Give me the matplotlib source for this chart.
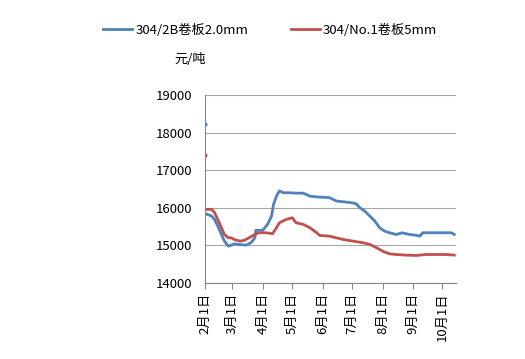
import matplotlib.pyplot as plt
import pandas as pd

plt.rcParams['font.family'] = ['Noto Sans CJK SC', 'DejaVu Sans']

# 304/2B 卷板 2.0mm
blue_dates = ["2015-02-02", "2015-02-08", "2015-02-11", "2015-02-15", "2015-02-18",
              "2015-02-21", "2015-02-25", "2015-02-28", "2015-03-03", "2015-03-09",
              "2015-03-15", "2015-03-20", "2015-03-24", "2015-03-25", "2015-04-01",
              "2015-04-06", "2015-04-10", "2015-04-12", "2015-04-15", "2015-04-18",
              "2015-04-22", "2015-04-28", "2015-05-05", "2015-05-12", "2015-05-15",
              "2015-05-19", "2015-05-26", "2015-06-08", "2015-06-15", "2015-06-22",
              "2015-06-29", "2015-07-05", "2015-07-09", "2015-07-14", "2015-07-19",
              "2015-07-24", "2015-07-29", "2015-08-03", "2015-08-08", "2015-08-15",
              "2015-08-21", "2015-08-28", "2015-09-04", "2015-09-08", "2015-09-11",
              "2015-09-18", "2015-10-01", "2015-10-10", "2015-10-13"]
blue_vals = [15842, 15780, 15690, 15470, 15290,
             15112, 14979, 15005, 15040, 15020,
             15005, 15070, 15200, 15400, 15400,
             15560, 15780, 16090, 16310, 16450,
             16400, 16400, 16390, 16390, 16360,
             16310, 16290, 16270, 16180, 16160,
             16140, 16110, 16000, 15910, 15780,
             15650, 15470, 15380, 15335, 15290,
             15335, 15290, 15270, 15245, 15335,
             15335, 15335, 15335, 15290]
blue_first = ("2015-02-01", 18244)

# 304/No.1 卷板 5mm
red_dates = ["2015-02-02", "2015-02-08", "2015-02-11", "2015-02-15", "2015-02-18",
             "2015-02-21", "2015-02-25", "2015-02-28", "2015-03-03", "2015-03-09",
             "2015-03-13", "2015-03-18", "2015-03-24", "2015-03-28", "2015-04-04",
             "2015-04-11", "2015-04-15", "2015-04-18", "2015-04-25", "2015-05-01",
             "2015-05-05", "2015-05-12", "2015-05-19", "2015-05-26", "2015-05-29",
             "2015-06-08", "2015-06-15", "2015-06-22", "2015-07-02", "2015-07-12",
             "2015-07-19", "2015-07-26", "2015-08-01", "2015-08-08", "2015-08-15",
             "2015-08-25", "2015-09-04", "2015-09-14", "2015-09-24", "2015-10-04",
             "2015-10-13"]
red_vals = [15957, 15957, 15870, 15646, 15470,
            15290, 15200, 15200, 15156, 15112,
            15130, 15200, 15290, 15335, 15335,
            15310, 15470, 15600, 15690, 15735,
            15600, 15560, 15470, 15335, 15263,
            15245, 15200, 15156, 15112, 15070,
            15025, 14935, 14845, 14774, 14756,
            14740, 14730, 14756, 14756, 14756,
            14740]
red_first = ("2015-02-01", 17407)

tick_dates = ["2015-02-01", "2015-03-01", "2015-04-01", "2015-05-01", "2015-06-01",
              "2015-07-01", "2015-08-01", "2015-09-01", "2015-10-01"]
tick_labels = ["2月1日", "3月1日", "4月1日", "5月1日", "6月1日",
               "7月1日", "8月1日", "9月1日", "10月1日"]

blue_c = "#4F81BD"
red_c = "#C0504D"

fig = plt.figure(figsize=(5.25, 3.59), dpi=100)
ax = fig.add_axes([0.390, 0.212, 0.479, 0.523])

ax.plot(pd.to_datetime(blue_dates), blue_vals, color=blue_c, lw=2,
        label="304/2B卷板2.0mm")
ax.plot(pd.to_datetime(red_dates), red_vals, color=red_c, lw=2,
        label="304/No.1卷板5mm")
ax.plot(pd.to_datetime([blue_first[0]]), [blue_first[1]], "o", color=blue_c, ms=2)
ax.plot(pd.to_datetime([red_first[0]]), [red_first[1]], "o", color=red_c, ms=2)

ax.set_xlim(pd.Timestamp("2015-02-01"), pd.Timestamp("2015-10-15"))
ax.set_ylim(14000, 19000)
ax.set_yticks([14000, 15000, 16000, 17000, 18000, 19000])
ax.set_xticks(pd.to_datetime(tick_dates))
ax.set_xticklabels(tick_labels, rotation=90, fontsize=9.5)
ax.tick_params(axis="y", length=0, labelsize=9.5, pad=9)
ax.tick_params(axis="x", length=4, color="#868686", pad=3)
ax.grid(axis="y", color="#A6A6A6", lw=0.8)
ax.set_axisbelow(True)
for s in ["top", "right"]:
    ax.spines[s].set_visible(False)
for s in ["left", "bottom"]:
    ax.spines[s].set_color("#868686")

fig.legend(loc="center", bbox_to_anchor=(0.515, 0.915), ncol=2, frameon=False,
           fontsize=9.5, handlelength=2.2, handletextpad=0.25, columnspacing=3.2)
fig.text(0.333, 0.825, "元/吨", fontsize=9.5)

fig.savefig("out.png", dpi=100)
